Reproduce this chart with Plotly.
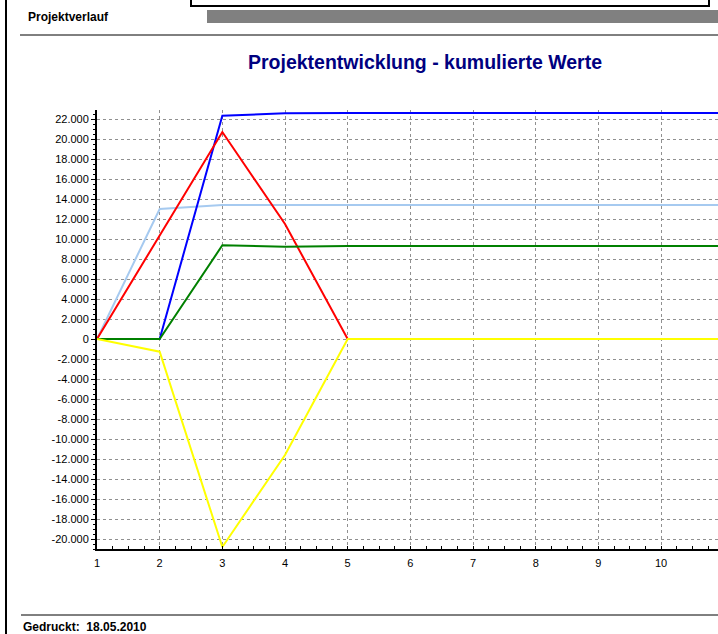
import plotly.graph_objects as go

# Perioden (x) und kumulierte Werte je Reihe
perioden = [1, 2, 3, 4, 5, 6, 7, 8, 9, 10, 11, 12]
hellblau = [0, 13000, 13400, 13400, 13400, 13400, 13400, 13400, 13400, 13400, 13400, 13400]
blau = [0, 0, 22330, 22570, 22600, 22600, 22600, 22600, 22600, 22600, 22600, 22600]
rot = [0, 10400, 20700, 11500, 0, 0, 0, 0, 0, 0, 0, 0]
gruen = [0, 0, 9370, 9230, 9300, 9300, 9300, 9300, 9300, 9300, 9300, 9300]
gelb = [0, -1270, -20800, -11600, 0, 0, 0, 0, 0, 0, 0, 0]

y_ticks = list(range(-20000, 22001, 2000))
y_labels = [f"{v:,}".replace(",", ".") for v in y_ticks]
x_ticks = list(range(1, 11))

W, H = 718, 634
L, R_EDGE, TOP, BOT = 97, 718, 110, 549


def px(x):
    return (x - L) / (R_EDGE - L)


def py(y):
    return (BOT - y) / (BOT - TOP)


fig = go.Figure()

serien = [
    (hellblau, "#A6CAF0"),
    (blau, "#0000FF"),
    (rot, "#FF0000"),
    (gruen, "#008000"),
    (gelb, "#FFFF00"),
]
for werte, farbe in serien:
    fig.add_trace(go.Scatter(
        x=perioden, y=werte, mode="lines",
        line=dict(color=farbe, width=2),
        showlegend=False, hoverinfo="skip",
    ))

# Seitenrahmen / Kopf- und Fußzeile
shapes = [
    dict(type="line", x0=px(6), x1=px(6), y0=py(-5), y1=py(640),
         line=dict(color="black", width=2)),
    dict(type="rect", x0=px(191), x1=px(709), y0=py(-10), y1=py(6),
         line=dict(color="black", width=2)),
    dict(type="rect", x0=px(207), x1=px(720), y0=py(10), y1=py(23),
         fillcolor="#808080", line=dict(width=0)),
    dict(type="line", x0=px(20), x1=px(720), y0=py(35), y1=py(35),
         line=dict(color="black", width=1)),
    dict(type="line", x0=px(21), x1=px(720), y0=py(615), y1=py(615),
         line=dict(color="black", width=1)),
]
for s in shapes:
    s.update(xref="paper", yref="paper", layer="above")

annotations = [
    dict(text="<b>Projektverlauf</b>", x=px(26), y=py(17), xanchor="left", yanchor="middle",
         font=dict(family="Arial", size=12, color="black")),
    dict(text="<b>Projektentwicklung - kumulierte Werte</b>", x=px(425), y=py(62),
         xanchor="center", yanchor="middle",
         font=dict(family="Arial", size=19.5, color="#000080")),
    dict(text="<b>Gedruckt:  18.05.2010</b>", x=px(21), y=py(627), xanchor="left", yanchor="middle",
         font=dict(family="Arial", size=12, color="black")),
]
for a in annotations:
    a.update(xref="paper", yref="paper", showarrow=False)

fig.update_layout(
    width=W, height=H,
    margin=dict(l=L, r=W - R_EDGE, t=TOP, b=H - BOT, pad=0),
    paper_bgcolor="white", plot_bgcolor="white",
    shapes=shapes, annotations=annotations,
    font=dict(family="Arial", size=11, color="black"),
)

fig.update_xaxes(
    range=[1, 1 + (R_EDGE - L) / 62.67], tickvals=x_ticks,
    showgrid=True, gridcolor="#909090", griddash="3px,3px", gridwidth=1,
    showline=True, linecolor="black", linewidth=2,
    ticks="inside", ticklen=0, zeroline=False,
    minor=dict(dtick=0.25, ticks="inside", ticklen=3, tickcolor="black", showgrid=False),
    tickfont=dict(size=11), ticklabelstandoff=3,
)
fig.update_yaxes(
    range=[-21000, 22900], tickvals=y_ticks, ticktext=y_labels,
    showgrid=True, gridcolor="#909090", griddash="3px,3px", gridwidth=1,
    showline=True, linecolor="black", linewidth=2,
    ticks="outside", ticklen=4, tickcolor="black", zeroline=False,
    minor=dict(dtick=500, ticks="outside", ticklen=2, tickcolor="black", showgrid=False),
    tickfont=dict(size=11),
)

fig.write_html("out.html", config={"displayModeBar": False},
               post_script="document.body.style.margin='0';")
